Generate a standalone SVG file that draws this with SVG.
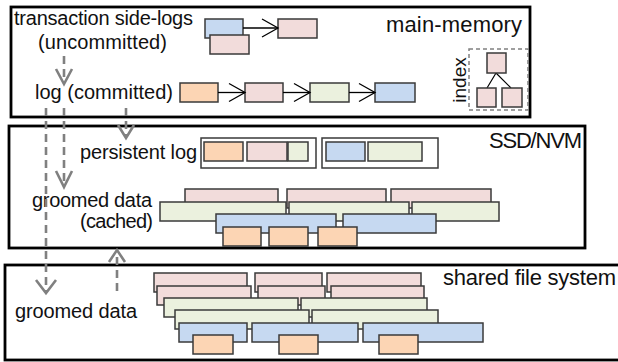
<svg xmlns="http://www.w3.org/2000/svg" width="618" height="362" viewBox="0 0 618 362">
  <defs>
    <marker id="open" markerUnits="userSpaceOnUse" markerWidth="20" markerHeight="22" refX="16" refY="9" orient="auto" overflow="visible">
      <path d="M0,0 L16,9 L0,18" fill="none" stroke="#000" stroke-width="1.3"/>
    </marker>
    <style>
      text { font-family: "Liberation Sans", Arial, sans-serif; fill: #111; }
      .lbl { font-size: 20px; }
      .reg { font-size: 22px; }
      .tier { fill: #fff; stroke: #000; stroke-width: 2.8; }
      .b { stroke: #3a3a3a; stroke-width: 1.5; }
      .pk { fill: #F2DCDB; }
      .bl { fill: #C6D9F1; }
      .gr { fill: #EBF1DE; }
      .or { fill: #FCD5B4; }
      .cont { fill: #fff; stroke: #3a3a3a; stroke-width: 1.5; }
      .link { stroke: #000; stroke-width: 1.3; fill: none; marker-end: url(#open); }
      .flow { stroke: #808080; stroke-width: 2.6; fill: none; stroke-dasharray: 8 5; }
      .head { stroke: #808080; stroke-width: 2.6; fill: none; }
    </style>
  </defs>

  <!-- storage tiers -->
  <g id="main-memory">
    <rect class="tier" x="11" y="7" width="519" height="110"/>
    <text class="reg" x="522" y="32" text-anchor="end" textLength="136">main-memory</text>
    <text class="lbl" x="14" y="25" textLength="179">transaction side-logs</text>
    <text class="lbl" x="38" y="49" textLength="129">(uncommitted)</text>
    <text class="lbl" x="35" y="99" textLength="138">log (committed)</text>
  </g>
  <g id="ssd-nvm">
    <rect class="tier" x="9" y="126" width="576" height="122"/>
    <text class="reg" x="582" y="148" text-anchor="end" textLength="93">SSD/NVM</text>
    <text class="lbl" x="80" y="159" textLength="117">persistent log</text>
    <text class="lbl" x="152" y="207" text-anchor="end" textLength="120">groomed data</text>
    <text class="lbl" x="153" y="228" text-anchor="end" textLength="73">(cached)</text>
  </g>
  <g id="shared-fs">
    <rect class="tier" x="5" y="265" width="625" height="95"/>
    <text class="reg" x="443" y="285" textLength="173">shared file system</text>
    <text class="lbl" x="15" y="318" textLength="122">groomed data</text>
  </g>

  <!-- side-log chain -->
  <g id="side-logs">
    <rect class="b bl" x="205" y="19" width="38" height="19"/>
    <rect class="b pk" x="210" y="35" width="39" height="19"/>
    <rect class="b pk" x="278" y="19" width="39" height="19"/>
  </g>

  <!-- committed log chain -->
  <g id="committed-log">
    <rect class="b or" x="180" y="83" width="38" height="19"/>
    <rect class="b pk" x="245" y="83" width="38" height="19"/>
    <rect class="b gr" x="310" y="83" width="39" height="19"/>
    <rect class="b bl" x="375" y="83" width="40" height="19"/>
  </g>

  <!-- index tree -->
  <g id="index">
    <rect x="469" y="49" width="59" height="61" fill="none" stroke="#808080" stroke-width="1.5" stroke-dasharray="4 3"/>
    <text x="466" y="80" font-size="19" text-anchor="middle" transform="rotate(-90 466 80)">index</text>
    <path d="M496,73 L487,88 M496,73 L511,88" stroke="#000" stroke-width="1.2" fill="none"/>
    <rect class="b pk" x="487" y="53" width="19" height="20"/>
    <rect class="b pk" x="477" y="88" width="19" height="19"/>
    <rect class="b pk" x="502" y="88" width="20" height="19"/>
  </g>

  <!-- persistent log segments -->
  <g id="persistent-log">
    <rect class="cont" x="201" y="138" width="115" height="30"/>
    <rect class="b or" x="204" y="142" width="39" height="19"/>
    <rect class="b pk" x="247" y="142" width="40" height="19"/>
    <rect class="b gr" x="288" y="142" width="20" height="19"/>
    <rect class="cont" x="322" y="138" width="116" height="30"/>
    <rect class="b bl" x="326" y="142" width="39" height="19"/>
    <rect class="b gr" x="368" y="142" width="54" height="19"/>
  </g>

  <!-- cached groomed data -->
  <g id="groomed-cached">
    <rect class="b pk" x="185" y="189" width="93" height="19"/>
    <rect class="b pk" x="287" y="189" width="99" height="19"/>
    <rect class="b pk" x="391" y="189" width="100" height="19"/>
    <rect class="b gr" x="160" y="202" width="126" height="19"/>
    <rect class="b gr" x="289" y="202" width="120" height="19"/>
    <rect class="b gr" x="412" y="202" width="87" height="19"/>
    <rect class="b bl" x="216" y="214" width="120" height="19"/>
    <rect class="b bl" x="343" y="214" width="93" height="19"/>
    <rect class="b or" x="223" y="227" width="38" height="19"/>
    <rect class="b or" x="269" y="227" width="39" height="19"/>
    <rect class="b or" x="318" y="227" width="39" height="19"/>
  </g>

  <!-- groomed data on shared file system -->
  <g id="groomed-shared">
    <rect class="b pk" x="154" y="273" width="93" height="19"/>
    <rect class="b pk" x="255" y="273" width="67" height="19"/>
    <rect class="b pk" x="327" y="273" width="94" height="19"/>
    <rect class="b pk" x="157" y="286" width="94" height="19"/>
    <rect class="b pk" x="258" y="286" width="67" height="19"/>
    <rect class="b pk" x="331" y="286" width="93" height="19"/>
    <rect class="b gr" x="164" y="298" width="134" height="19"/>
    <rect class="b gr" x="301" y="298" width="126" height="19"/>
    <rect class="b gr" x="175" y="310" width="134" height="19"/>
    <rect class="b gr" x="312" y="310" width="126" height="19"/>
    <rect class="b bl" x="179" y="323" width="68" height="19"/>
    <rect class="b bl" x="252" y="323" width="106" height="19"/>
    <rect class="b bl" x="363" y="323" width="120" height="19"/>
    <rect class="b or" x="193" y="335" width="40" height="19"/>
    <rect class="b or" x="279" y="335" width="39" height="19"/>
    <rect class="b or" x="379" y="335" width="39" height="19"/>
  </g>

  <!-- connectors -->
  <g id="connectors">
    <line class="link" x1="243" y1="28" x2="278" y2="28"/>
    <line class="link" x1="218" y1="92.5" x2="245" y2="92.5"/>
    <line class="link" x1="283" y1="92.5" x2="310" y2="92.5"/>
    <line class="link" x1="349" y1="92.5" x2="375" y2="92.5"/>

    <line class="flow" x1="64" y1="56" x2="64" y2="82"/>
    <path class="head" d="M56,69 L64,84 L72,69"/>

    <line class="flow" x1="46" y1="108" x2="46" y2="291"/>
    <path class="head" d="M36,280 L46,293 L56,280"/>

    <line class="flow" x1="64" y1="108" x2="64" y2="185"/>
    <path class="head" d="M56,171 L64,187 L72,171"/>

    <line class="flow" x1="126" y1="108" x2="126" y2="136"/>
    <path class="head" d="M118,125 L126,138 L134,125"/>

    <line class="flow" x1="117" y1="291" x2="117" y2="252"/>
    <path class="head" d="M109,262 L117,250 L125,262"/>
  </g>
</svg>
